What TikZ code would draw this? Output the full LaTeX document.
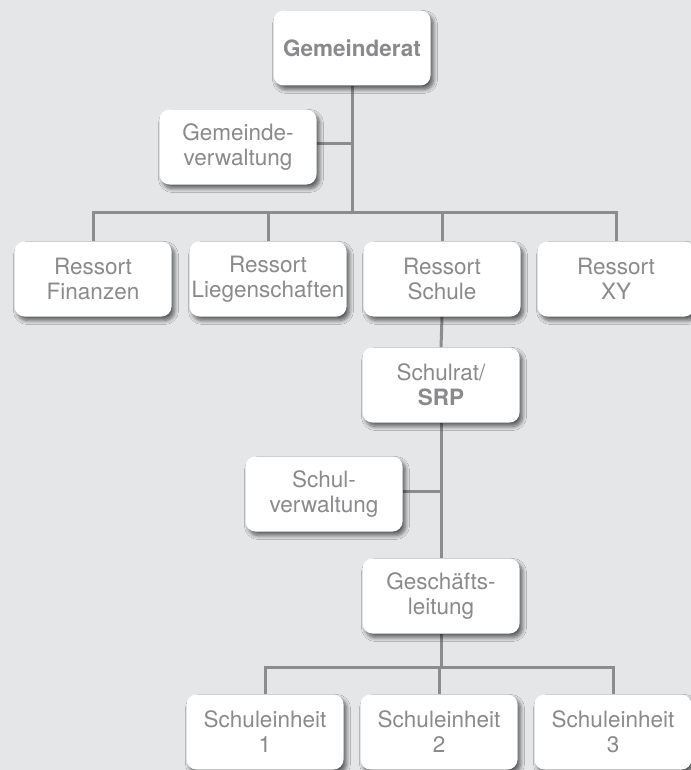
\documentclass[tikz,border=0pt]{standalone}
\usepackage{fontspec}
\setmainfont{TeX Gyre Heros}
\usetikzlibrary{backgrounds,shadows.blur}
\definecolor{bg}{RGB}{229,230,232}
\definecolor{txt}{RGB}{138,138,140}
\definecolor{ln}{RGB}{140,140,142}
\tikzset{
  orgbox/.style={fill=white, rounded corners=10pt, minimum width=157pt, minimum height=75pt,
    inner sep=0pt, align=center, text=txt, font=\fontsize{22.5}{25}\selectfont,
    blur shadow={shadow xshift=3pt, shadow yshift=-4pt, shadow blur steps=8, shadow blur radius=4pt, shadow opacity=60}},
  conn/.style={draw=ln, line width=3pt}
}
\begin{document}
\begin{tikzpicture}[x=1pt,y=-1pt]
\useasboundingbox (0,0) rectangle (690,770);
\node[orgbox] (ger) at (352,48) {\textbf{Gemeinderat}};
\node[orgbox] (gv) at (238,147) {Gemeinde-\\verwaltung};
\node[orgbox] (rf) at (93,279) {Ressort\\Finanzen};
\node[orgbox] (rl) at (268,279) {Ressort\\Liegenschaften};
\node[orgbox] (rs) at (442,279) {Ressort\\Schule};
\node[orgbox] (rx) at (616,279) {Ressort\\XY};
\node[orgbox] (sr) at (441,385) {Schulrat/\\\textbf{SRP}};
\node[orgbox] (sv) at (324,494) {Schul-\\verwaltung};
\node[orgbox] (gl) at (441,596) {Geschäfts-\\leitung};
\node[orgbox] (s1) at (265,732) {Schuleinheit\\1};
\node[orgbox] (s2) at (439,732) {Schuleinheit\\2};
\node[orgbox] (s3) at (613,732) {Schuleinheit\\3};
\coordinate (bar1) at (352,212);
\coordinate (bar2) at (441,667);
\begin{scope}[on background layer]
  \fill[bg] (-5,-5) rectangle (695,775);
  \draw[conn] (ger.south) -- (bar1);
  \draw[conn] ([yshift=3pt]gv.east) -- ([yshift=3pt]gv.east -| ger.south);
  \draw[conn] (rf.north) -- (rf.north |- bar1) -- (rx.north |- bar1) -- (rx.north);
  \draw[conn] (rl.north) -- (rl.north |- bar1);
  \draw[conn] (rs.north) -- (rs.north |- bar1);
  \draw[conn] (rs.south) -- (sr.north);
  \draw[conn] (sr.south) -- (gl.north);
  \draw[conn] ([yshift=3pt]sv.east) -- ([yshift=3pt]sv.east -| sr.south);
  \draw[conn] (gl.south) -- (bar2);
  \draw[conn] (s1.north) -- (s1.north |- bar2) -- (s3.north |- bar2) -- (s3.north);
  \draw[conn] (s2.north) -- (s2.north |- bar2);
\end{scope}
\end{tikzpicture}
\end{document}
